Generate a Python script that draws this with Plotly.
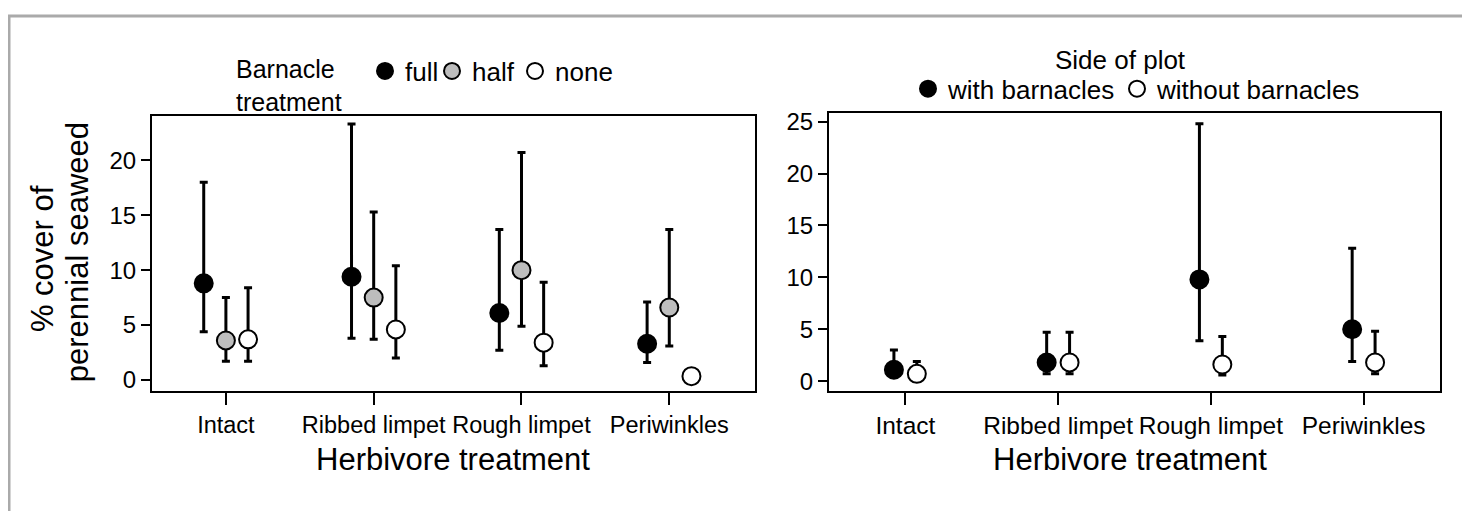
import plotly.graph_objects as go

# ---------------- data ----------------
herbivores = ["Intact", "Ribbed limpet", "Rough limpet", "Periwinkles"]

# Left panel: barnacle treatment
full_mean = [8.8, 9.4, 6.1, 3.3]
full_upper = [18.0, 23.3, 13.7, 7.1]
full_lower = [4.4, 3.8, 2.7, 1.6]

half_mean = [3.6, 7.5, 10.0, 6.6]
half_upper = [7.5, 15.3, 20.7, 13.7]
half_lower = [1.7, 3.7, 4.9, 3.1]

none_mean = [3.7, 4.6, 3.4, 0.35]
none_upper = [8.4, 10.4, 8.9, 0.35]
none_lower = [1.7, 2.0, 1.3, 0.35]

# Right panel: side of plot
with_mean = [1.1, 1.8, 9.8, 5.0]
with_upper = [3.0, 4.7, 24.8, 12.8]
with_lower = [0.5, 0.7, 3.9, 1.9]

without_mean = [0.7, 1.8, 1.6, 1.8]
without_upper = [1.9, 4.7, 4.3, 4.8]
without_lower = [0.2, 0.7, 0.6, 0.7]

left_yticks = [0, 5, 10, 15, 20]
right_yticks = [0, 5, 10, 15, 20, 25]

# ---------------- style ----------------
W, H = 1470, 511
OFF = 8  # page body margin
FONT = "Arial, 'Liberation Sans', sans-serif"
pos = list(range(len(herbivores)))


def px(xp):
    return (xp - OFF) / W


def py(yp):
    return 1 - (yp - OFF) / H


def add_series(fig, mean, upper, lower, offset, color, name, xa, ya, legend):
    fig.add_trace(go.Scatter(
        x=[p + offset for p in pos], y=mean,
        mode="markers", name=name,
        xaxis=xa, yaxis=ya, legend=legend,
        marker=dict(size=18, color=color, line=dict(color="black", width=2)),
        error_y=dict(type="data", symmetric=False,
                     array=[u - m for u, m in zip(upper, mean)],
                     arrayminus=[m - l for m, l in zip(mean, lower)],
                     color="black", thickness=3, width=4),
    ))


fig = go.Figure()
add_series(fig, full_mean, full_upper, full_lower, -0.15, "black", "full", "x", "y", "legend")
add_series(fig, half_mean, half_upper, half_lower, 0.0, "#bdbdbd", "half", "x", "y", "legend2")
add_series(fig, none_mean, none_upper, none_lower, 0.15, "white", "none", "x", "y", "legend3")
add_series(fig, with_mean, with_upper, with_lower, -0.075, "black", "with barnacles", "x2", "y2", "legend4")
add_series(fig, without_mean, without_upper, without_lower, 0.075, "white", "without barnacles", "x2", "y2", "legend5")

axis_common = dict(showline=True, mirror=True, linecolor="black", linewidth=2,
                   showgrid=False, zeroline=False, ticks="outside", tickwidth=2,
                   tickcolor="black", fixedrange=True)


def leg(marker_x, marker_y):
    return dict(orientation="h", x=px(marker_x - 20), xanchor="left", y=py(marker_y),
                yanchor="middle", font=dict(size=26), bgcolor="rgba(0,0,0,0)",
                itemclick=False, itemdoubleclick=False)


fig.update_layout(
    width=W, height=H,
    margin=dict(l=0, r=0, t=0, b=0),
    paper_bgcolor="white", plot_bgcolor="white",
    font=dict(family=FONT, color="black"),
    xaxis=dict(domain=[px(152), px(755)], range=[-0.5, 3.58],
               tickvals=pos, ticktext=herbivores, ticklen=12, tickangle=0,
               tickfont=dict(size=23.5), anchor="y", **axis_common),
    yaxis=dict(domain=[py(392), py(113)], range=[-1, 24],
               tickvals=left_yticks, ticklen=9, tickfont=dict(size=24),
               anchor="x", **axis_common),
    xaxis2=dict(domain=[px(829), px(1440)], range=[-0.5, 3.5],
                tickvals=pos, ticktext=herbivores, ticklen=12, tickangle=0,
                tickfont=dict(size=24.5), anchor="y2", **axis_common),
    yaxis2=dict(domain=[py(392), py(110)], range=[-0.95, 25.8],
                tickvals=right_yticks, ticklen=9, tickfont=dict(size=24),
                anchor="x2", **axis_common),
    legend=leg(385, 67),
    legend2=leg(452, 67),
    legend3=leg(535, 67),
    legend4=leg(928, 85),
    legend5=leg(1137, 85),
    showlegend=True,
)

annotations = [
    dict(text="Barnacle<br>treatment", x=px(234), y=py(82), xanchor="left", yanchor="middle",
         align="left", font=dict(size=25)),
    dict(text="Side of plot", x=px(1120), y=py(56), xanchor="center", yanchor="middle",
         font=dict(size=26)),
    dict(text="Herbivore treatment", x=px(453), y=py(462), xanchor="center", yanchor="middle",
         font=dict(size=31)),
    dict(text="Herbivore treatment", x=px(1130), y=py(462), xanchor="center", yanchor="middle",
         font=dict(size=31)),
    dict(text="% cover of", x=px(42), y=py(258), textangle=-90,
         xanchor="center", yanchor="middle", font=dict(size=31)),
    dict(text="perennial seaweed", x=px(77), y=py(251), textangle=-90,
         xanchor="center", yanchor="middle", font=dict(size=31)),
]
for a in annotations:
    a.update(xref="paper", yref="paper", showarrow=False)
fig.update_layout(annotations=annotations)

fig.add_shape(type="rect", xref="paper", yref="paper",
              x0=px(9), x1=px(1466), y0=-0.05, y1=py(11),
              line=dict(color="#aaaaaa", width=3), fillcolor="rgba(0,0,0,0)", layer="below")

fig.write_html("out.html")
